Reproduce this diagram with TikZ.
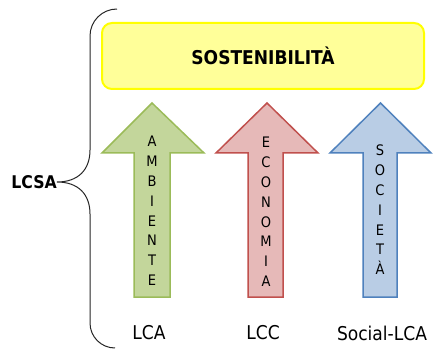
\documentclass[tikz,border=0pt]{standalone}
\usepackage{fontspec}
\setmainfont{DejaVu Sans Condensed}
\definecolor{boxfill}{HTML}{FFFF99}
\definecolor{boxline}{HTML}{FFFF00}
\definecolor{gfill}{HTML}{C3D69B}
\definecolor{gline}{HTML}{9BBB59}
\definecolor{rfill}{HTML}{E6B9B8}
\definecolor{rline}{HTML}{C0504D}
\definecolor{bfill}{HTML}{B9CDE5}
\definecolor{bline}{HTML}{4F81BD}
\begin{document}
\begin{tikzpicture}[x=1pt,y=-1pt,
  topbox/.style={draw=boxline, fill=boxfill, line width=2pt, rounded corners=10pt,
    minimum width=322pt, minimum height=66pt, inner sep=0pt,
    font=\fontsize{19}{21}\selectfont\bfseries},
  vlet/.style={align=center, inner sep=0pt, font=\fontsize{14.5}{19.8}\selectfont},
  lbl/.style={inner sep=0pt, font=\fontsize{19}{21}\selectfont},
  arr/.style={line width=1.5pt, line join=miter},
  bracel/.style={draw=black!85, line width=1pt}
]
\useasboundingbox (0,0) rectangle (434,350);

% top box
\node[topbox] (sost) at (263,56) {SOSTENIBILITÀ};

% arrows
\draw[arr, draw=gline, fill=gfill] (134,297) -- (134,153) -- (102,153) -- (152,103)
  -- (204,153) -- (170,153) -- (170,297) -- cycle;
\draw[arr, draw=rline, fill=rfill] (248,297) -- (248,153) -- (216,153) -- (267,103)
  -- (318,153) -- (283,153) -- (283,297) -- cycle;
\draw[arr, draw=bline, fill=bfill] (363,297) -- (363,153) -- (330,153) -- (380.5,103)
  -- (431,153) -- (397,153) -- (397,297) -- cycle;

% vertical words
\node[vlet] (amb) at (152,211) {A\\M\\B\\I\\E\\N\\T\\E};
\node[vlet] (eco) at (266,212) {E\\C\\O\\N\\O\\M\\I\\A};
\node[vlet] (soc) at (380,210) {S\\O\\C\\I\\E\\T\\À};

% labels
\node[lbl] (lca) at (149,333) {LCA};
\node[lbl] (lcc) at (263,333) {LCC};
\node[lbl] (slca) at (382,333) {Social-LCA};

% brace
\node[inner sep=0pt, anchor=east, font=\fontsize{17.5}{19}\selectfont\bfseries] (lcsa) at (57,182) {LCSA};
\coordinate (btop) at (117,9);
\coordinate (bbot) at (115,348);
\draw[bracel] (btop) arc[start angle=90, end angle=180, radius=27pt]
  -- (90,150) .. controls (90,170) and (78,182) .. (lcsa.east)
  .. controls (78,182) and (90,194) .. (90,214)
  -- (90,323) arc[start angle=180, end angle=270, radius=25pt];
\end{tikzpicture}
\end{document}
